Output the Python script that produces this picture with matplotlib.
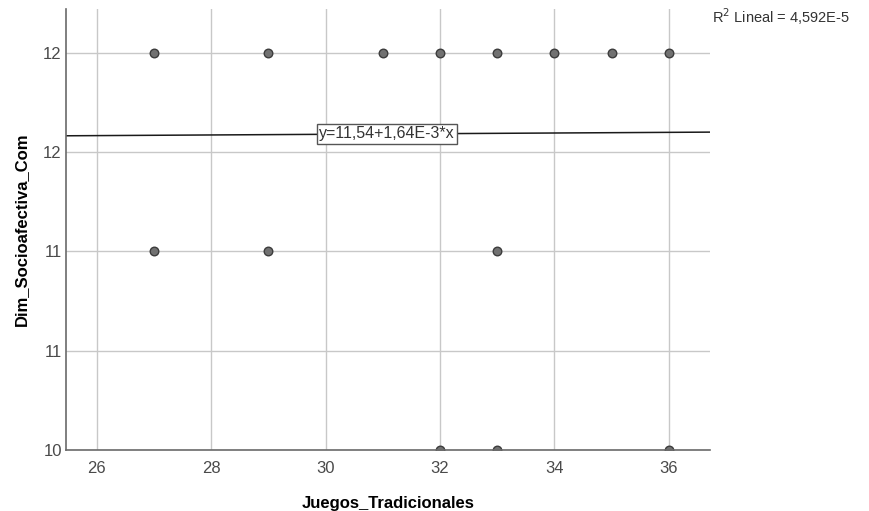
import matplotlib
matplotlib.use("Agg")
import matplotlib.pyplot as plt
import numpy as np

plt.rcParams['font.family'] = ['Liberation Sans', 'DejaVu Sans']

# Data
x_vals = [27, 29, 31, 32, 33, 34, 35, 36, 27, 29, 33, 32, 33, 36]
y_vals = [12, 12, 12, 12, 12, 12, 12, 12, 11, 11, 11, 10, 10, 10]
intercept = 11.54
slope = 1.64e-3
x_ticks = [26, 28, 30, 32, 34, 36]
y_ticks = [10, 10.5, 11, 11.5, 12]
y_tick_labels = ["10", "11", "11", "12", "12"]
eq_label = "y=11,54+1,64E-3*x"
r2_label = "R$^2$ Lineal = 4,592E-5"
x_label = "Juegos_Tradicionales"
y_label = "Dim_Socioafectiva_Com"

fig = plt.figure(figsize=(8.7, 5.11), dpi=100)
ax = fig.add_axes([66/870, 1-450/511, (710-66)/870, (450-9)/511])
xlim = (25.46, 36.72)
ylim = (10, 12.22)
ax.set_xlim(*xlim)
ax.set_ylim(*ylim)

ax.grid(True, color='#c8c8c8', linewidth=1.0, zorder=0)
ax.set_axisbelow(True)
for s in ['top', 'right']:
    ax.spines[s].set_visible(False)
for s in ['left', 'bottom']:
    ax.spines[s].set_color('#6a6a6a')
    ax.spines[s].set_linewidth(1.2)
    ax.spines[s].set_zorder(5)

ax.scatter(x_vals, y_vals, s=38, facecolor='#717171', edgecolor='#3c3c3c',
           linewidth=1.0, zorder=3)

xl = np.array(xlim)
ax.plot(xl, intercept + slope * xl, color='#1a1a1a', linewidth=1.1, zorder=4)
xe = 31.07
ax.text(xe, intercept + slope * xe, eq_label, ha='center', va='center',
        fontsize=11.5, color='#333333', zorder=6,
        bbox=dict(boxstyle='square,pad=0.15', facecolor='white', edgecolor='#555555', linewidth=1))

ax.set_xticks(x_ticks)
ax.set_yticks(y_ticks)
ax.set_yticklabels(y_tick_labels)
ax.tick_params(length=0, labelsize=12, labelcolor='#4a4a4a')
ax.tick_params(axis='x', pad=8)
ax.tick_params(axis='y', pad=3)

ax.set_xlabel(x_label, fontsize=12, fontweight='bold', labelpad=14)
ax.set_ylabel(y_label, fontsize=12, fontweight='bold', labelpad=10)

fig.text(712/870, 1-17/511, r2_label, fontsize=10.5, color='#333333', va='center', ha='left')

fig.savefig('out.png', dpi=100)
